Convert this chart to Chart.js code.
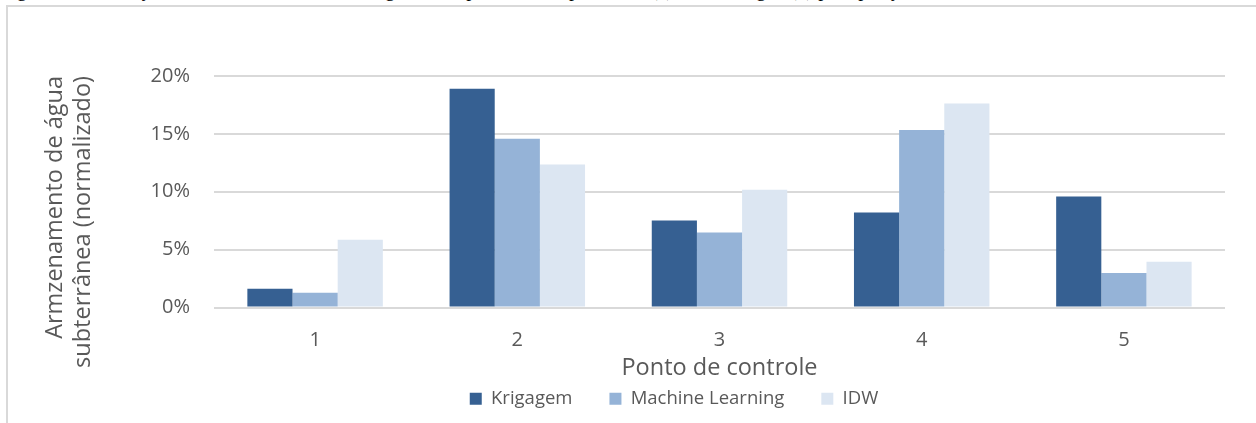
<!DOCTYPE html>
<html>
<head>
<meta charset="utf-8">
<script src="https://cdn.jsdelivr.net/npm/chart.js@4.4.0/dist/chart.umd.min.js"></script>
<style>
  html, body { margin: 0; padding: 0; background: #fff; width: 1256px; height: 423px; overflow: hidden; position: relative; }
  #caption { position: absolute; left: 0; top: -22px; font: 20px 'Liberation Serif', serif; color: #000; white-space: nowrap; }
  #frame { position: absolute; left: 6px; top: 5px; width: 1400px; height: 500px; border-top: 2px solid #d9d9d9; border-left: 2px solid #d9d9d9; }
  #wrap { position: absolute; left: 8px; top: 7px; width: 1334px; height: 411px; }
</style>
</head>
<body>
<div id="caption">Figura 10 – Variação do valor médio da amostragem da superfície interpolada de (a) nível de água (b) precipitação</div>
<div id="frame"></div>
<div id="wrap"><canvas id="chart" width="1334" height="411"></canvas></div>
<script>
// valores (em %)
const categories = ['1', '2', '3', '4', '5'];
const krigagem = [1.62, 18.9, 7.52, 8.21, 9.59];
const machineLearning = [1.27, 14.58, 6.48, 15.33, 2.97];
const idw = [5.85, 12.36, 10.17, 17.63, 3.95];
const yTicks = [0, 5, 10, 15, 20];

const grey = '#595959';
const font = "'Open Sans', sans-serif";

const ctx = document.getElementById('chart');
new Chart(ctx, {
  type: 'bar',
  data: {
    labels: categories,
    datasets: [
      { label: 'Krigagem', data: krigagem, backgroundColor: '#366092' },
      { label: 'Machine Learning', data: machineLearning, backgroundColor: '#95B3D7' },
      { label: 'IDW', data: idw, backgroundColor: '#DCE6F2' }
    ]
  },
  options: {
    responsive: false,
    animation: false,
    layout: { padding: { left: 115, top: 69, right: 117, bottom: 0 } },
    datasets: { bar: { categoryPercentage: 0.67, barPercentage: 1.0 } },
    scales: {
      x: {
        grid: { display: false },
        border: { display: false },
        ticks: { color: grey, font: { family: font, size: 20 }, padding: 13 },
        title: {
          display: true, text: 'Ponto de controle', color: grey,
          font: { family: font, size: 23.5 }, padding: { top: 0, bottom: -30 }
        },
        afterFit: (scale) => { scale.height = 45; }
      },
      y: {
        min: 0, max: 20,
        afterBuildTicks: (scale) => { scale.ticks = yTicks.map(v => ({ value: v })); },
        grid: { color: '#d9d9d9', lineWidth: 2, drawTicks: false },
        border: { display: false },
        ticks: { color: grey, font: { family: font, size: 20 }, padding: 24, callback: v => v + '%' },
        title: {
          display: true, text: ['Armzenamento de água', 'subterrânea (normalizado)'], color: grey,
          align: 'end',
          font: { family: font, size: 23.5 }, padding: { top: -82, bottom: 0 }
        },
        afterFit: (scale) => { scale.width = 91; }
      }
    },
    plugins: {
      legend: {
        position: 'bottom',
        labels: { color: grey, font: { family: font, size: 18.5 }, boxWidth: 12, boxHeight: 12, padding: 37 }
      },
      tooltip: { enabled: false }
    }
  }
});
</script>
</body>
</html>
